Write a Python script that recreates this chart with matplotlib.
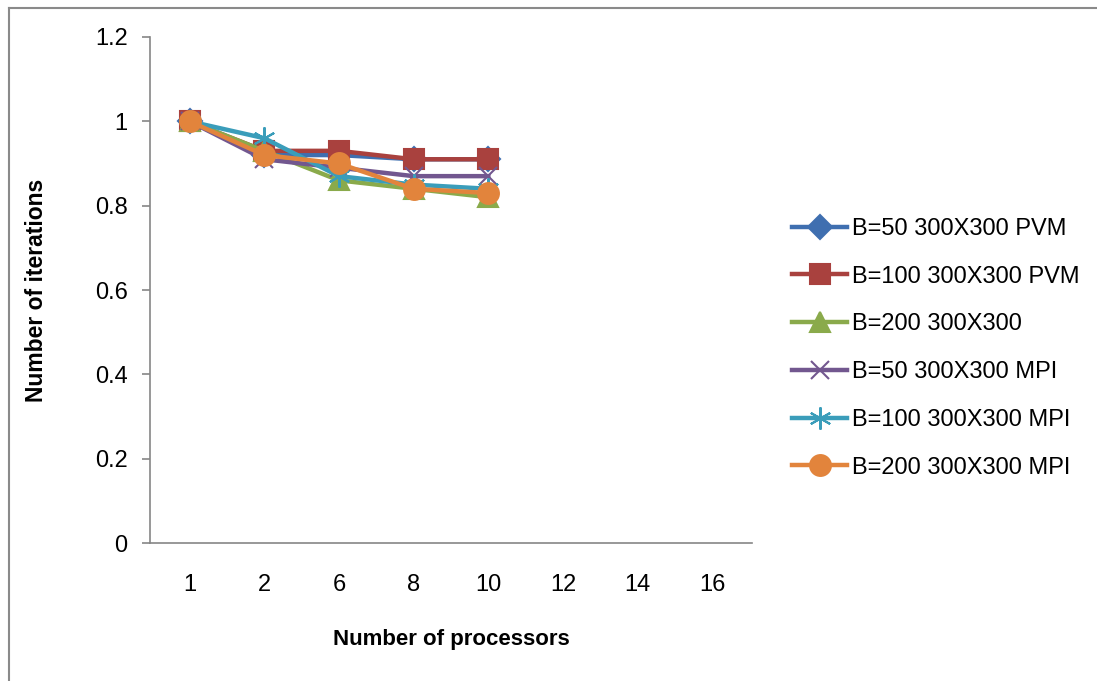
import numpy as np
import matplotlib.pyplot as plt
from matplotlib.lines import Line2D

plt.rcParams['font.family'] = ['Liberation Sans', 'DejaVu Sans']

processors = ['1', '2', '6', '8', '10', '12', '14', '16']
yticks = [0, 0.2, 0.4, 0.6, 0.8, 1, 1.2]
ytick_labels = ['0', '0.2', '0.4', '0.6', '0.8', '1', '1.2']

b50_pvm = [1.0, 0.92, 0.92, 0.91, 0.91]
b100_pvm = [1.0, 0.93, 0.93, 0.91, 0.91]
b200 = [1.0, 0.93, 0.86, 0.84, 0.82]
b50_mpi = [1.0, 0.91, 0.89, 0.87, 0.87]
b100_mpi = [1.0, 0.96, 0.87, 0.85, 0.84]
b200_mpi = [1.0, 0.92, 0.90, 0.84, 0.83]

series = [
    ('B=50 300X300 PVM', b50_pvm, '#3F6FB0', 'D', 12),
    ('B=100 300X300 PVM', b100_pvm, '#A9413E', 's', 14),
    ('B=200 300X300', b200, '#8AAA4B', '^', 14),
    ('B=50 300X300 MPI', b50_mpi, '#72578F', 'x', 13),
    ('B=100 300X300 MPI', b100_mpi, '#3A9DBA', (6, 2, 0), 16),
    ('B=200 300X300 MPI', b200_mpi, '#E2843C', 'o', 15),
]

fig = plt.figure(figsize=(10.97, 6.81), dpi=100)
ax = fig.add_axes([0.1367, 0.2026, 0.5488, 0.7431])

x = np.arange(len(processors))
handles = []
for name, vals, col, mk, ms in series:
    h, = ax.plot(x[:len(vals)], vals, color=col, lw=3.2, marker=mk, ms=ms,
                 mew=1.5, mec=col, mfc=col, label=name)
    handles.append(h)

ax.set_xlim(-0.53, len(processors) - 0.47)
ax.set_ylim(0, 1.2)
ax.set_xticks(x)
ax.set_xticklabels(processors, fontsize=17)
ax.set_yticks(yticks)
ax.set_yticklabels(ytick_labels, fontsize=17)
ax.tick_params(axis='x', length=0, pad=22)
ax.tick_params(axis='y', length=6, width=1.2, color='#868686', pad=10)
for s in ['top', 'right']:
    ax.spines[s].set_visible(False)
for s in ['left', 'bottom']:
    ax.spines[s].set_color('#868686')
    ax.spines[s].set_linewidth(1.2)

ax.set_xlabel('Number of processors', fontsize=16, fontweight='bold', labelpad=24)
ax.set_ylabel('Number of iterations', fontsize=16.5, fontweight='bold', labelpad=34)

leg = fig.legend(handles=handles, loc='upper left', bbox_to_anchor=(0.722, 0.680),
                 frameon=False, fontsize=17, handlelength=2.33, handletextpad=0.2,
                 labelspacing=1.09, borderaxespad=0, borderpad=0)

fig.add_artist(Line2D([9 / 1097, 1.0], [1 - 8 / 681, 1 - 8 / 681],
                      transform=fig.transFigure, color='#8a8a8a', lw=1.5))
fig.add_artist(Line2D([9 / 1097, 9 / 1097], [0, 1 - 8 / 681],
                      transform=fig.transFigure, color='#8a8a8a', lw=1.5))

fig.savefig('out.png', dpi=100)
